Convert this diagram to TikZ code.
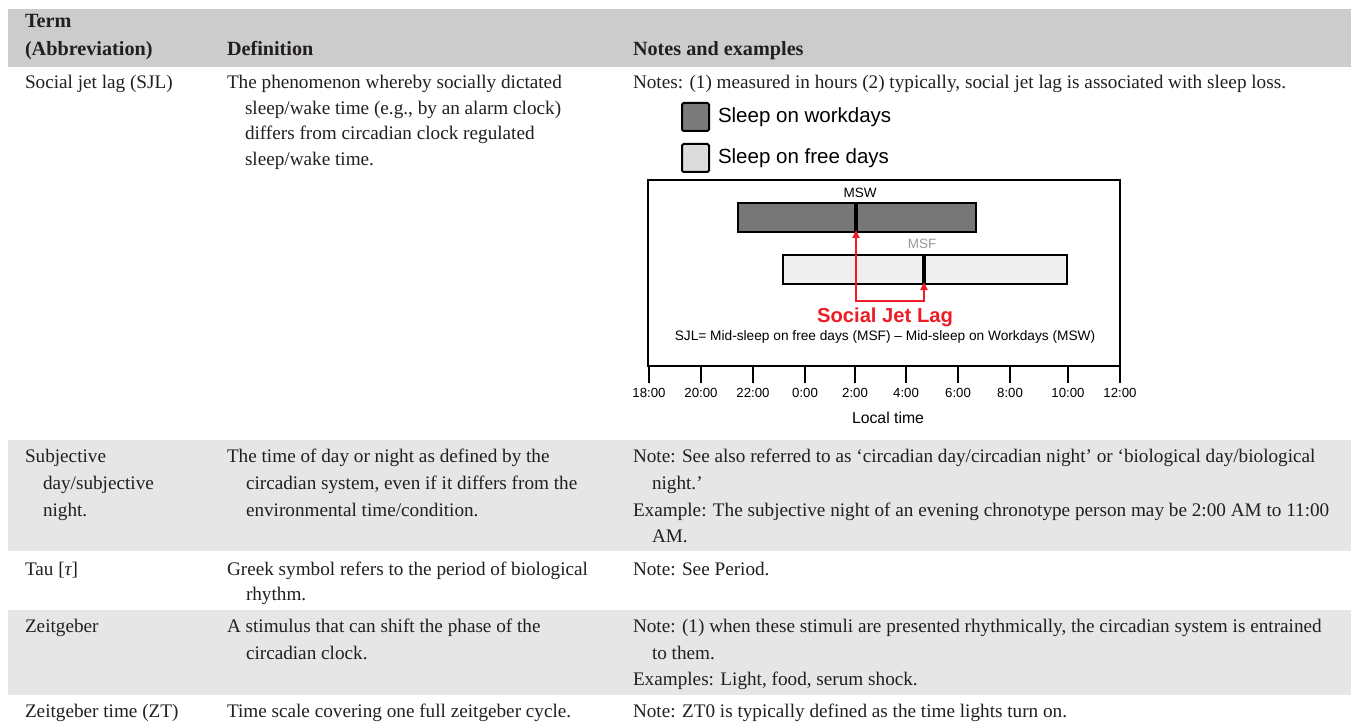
\documentclass[tikz,border=0pt]{standalone}
\usepackage{fontspec}
\setmainfont{Liberation Serif}
\newfontfamily\chartfont{Liberation Sans}
\usetikzlibrary{arrows.meta}
\definecolor{hdrgrey}{HTML}{CCCCCC}
\definecolor{rowgrey}{HTML}{E6E6E6}
\definecolor{txt}{HTML}{231F20}
\definecolor{sjlred}{HTML}{EE1C25}
\definecolor{darkbar}{HTML}{777777}
\definecolor{lightbar}{HTML}{EFEFEF}
\definecolor{legdark}{HTML}{7B7B7B}
\definecolor{leglight}{HTML}{DCDCDC}
\definecolor{msfgrey}{HTML}{999999}
\begin{document}
\begin{tikzpicture}[x=1pt,y=-1pt,
  cell/.style={anchor=base west, inner sep=0pt, outer sep=0pt, text=txt, font=\fontsize{19.2}{22}\selectfont},
  head/.style={cell, font=\fontsize{20.2}{23}\selectfont\bfseries},
  chart/.style={inner sep=0pt, outer sep=0pt, font=\chartfont\fontsize{13.2}{15}\selectfont},
  legbox/.style={draw, line width=2pt, rounded corners=1.5pt, minimum width=27pt, minimum height=28pt, inner sep=0pt, anchor=north west},
  sleepbar/.style={draw, line width=2pt, minimum height=29pt, inner sep=0pt, anchor=north west},
  midmark/.style={line width=3.5pt},
  tickline/.style={line width=2.5pt},
  sjlarrow/.style={draw=sjlred, line width=2.3pt, {Triangle[length=8pt,width=7pt]}-{Triangle[length=8pt,width=7pt]}}
]
\useasboundingbox (0,0) rectangle (1351,727);
\fill[white] (0,0) rectangle (1351,727);
% row backgrounds
\fill[hdrgrey] (8,9) rectangle (1351,67);
\fill[rowgrey] (8,440) rectangle (1351,551);
\fill[rowgrey] (8,610) rectangle (1351,695);

% header
\node[head] (hterm) at (25,28) {Term};
\node[head] (habbr) at (25,56) {(Abbreviation)};
\node[head] (hdef) at (227,56) {Definition};
\node[head] (hnotes) at (633,56) {Notes and examples};

% row 1
\node[cell] (t1) at (25,89) {Social jet lag (SJL)};
\node[cell] (d1a) at (227,89) {The phenomenon whereby socially dictated};
\node[cell] (d1b) at (245,115) {sleep/wake time (e.g., by an alarm clock)};
\node[cell] (d1c) at (245,140) {differs from circadian clock regulated};
\node[cell] (d1d) at (245,166) {sleep/wake time.};
\node[cell] (n1a) at (633,89) {Notes: (1) measured in hours (2) typically, social jet lag is associated with sleep loss.};

% legend
\node[legbox, fill=legdark] (legw) at (681,102) {};
\node[chart, anchor=base west, font=\chartfont\fontsize{20.5}{24}\selectfont] (legwt) at (718,123) {Sleep on workdays};
\node[legbox, fill=leglight] (legf) at (681,143) {};
\node[chart, anchor=base west, font=\chartfont\fontsize{20.5}{24}\selectfont] (legft) at (718,164) {Sleep on free days};

% chart frame
\draw[line width=2pt] (648,180) rectangle (1120,366);
\node[sleepbar, fill=darkbar, minimum width=238pt] (wbar) at (737,202) {};
\node[sleepbar, fill=lightbar, minimum width=284pt] (fbar) at (782,254) {};
\coordinate (mswtop) at (856,202);
\coordinate (mswbot) at (856,231);
\coordinate (msftop) at (924,254);
\coordinate (msfbot) at (924,283);
\draw[midmark] (mswtop) -- (mswbot);
\draw[midmark] (msftop) -- (msfbot);
\node[chart, anchor=base, font=\chartfont\fontsize{13.5}{15}\selectfont] (msw) at (860,198) {MSW};
\node[chart, anchor=base, text=msfgrey, font=\chartfont\fontsize{13.5}{15}\selectfont] (msf) at (922,249) {MSF};
\coordinate (c1) at (856,301);
\coordinate (c2) at (924,301);
\draw[sjlarrow] ([yshift=1pt]mswbot) -- (c1) -- (c2) -- ([yshift=1pt]msfbot);
\node[chart, anchor=base, text=sjlred, font=\chartfont\fontsize{20.2}{24}\selectfont\bfseries] (sjl) at (885,322) {Social Jet Lag};
\node[chart, anchor=base, font=\chartfont\fontsize{13.7}{15}\selectfont] (sjlform) at (885,340) {SJL= Mid-sleep on free days (MSF) – Mid-sleep on Workdays (MSW)};

% axis ticks and labels
\foreach \x/\l [count=\i] in {649/18:00, 701/20:00, 753/22:00, 805/0:00, 855/2:00, 906/4:00, 958/6:00, 1010/8:00, 1068/10:00, 1120/12:00} {
  \draw[tickline] (\x,366) -- (\x,383);
  \node[chart, anchor=base] (tl\i) at (\x,397) {\l};
}
\node[chart, anchor=base, font=\chartfont\fontsize{15.8}{18}\selectfont] (ltime) at (888,423) {Local time};

% row 2
\node[cell] (t2a) at (25,462) {Subjective};
\node[cell] (t2b) at (43,489) {day/subjective};
\node[cell] (t2c) at (43,516) {night.};
\node[cell] (d2a) at (227,462) {The time of day or night as defined by the};
\node[cell] (d2b) at (246,489) {circadian system, even if it differs from the};
\node[cell] (d2c) at (246,516) {environmental time/condition.};
\node[cell] (n2a) at (633,462) {Note: See also referred to as ‘circadian day/circadian night’ or ‘biological day/biological};
\node[cell] (n2b) at (652,489) {night.’};
\node[cell] (n2c) at (633,516) {Example: The subjective night of an evening chronotype person may be 2:00 AM to 11:00};
\node[cell] (n2d) at (652,542) {AM.};

% row 3
\node[cell] (t3) at (25,575) {Tau [{\itshape τ}]};
\node[cell] (d3a) at (227,575) {Greek symbol refers to the period of biological};
\node[cell] (d3b) at (246,600) {rhythm.};
\node[cell] (n3) at (633,575) {Note: See Period.};

% row 4
\node[cell] (t4) at (25,632) {Zeitgeber};
\node[cell] (d4a) at (227,632) {A stimulus that can shift the phase of the};
\node[cell] (d4b) at (246,659) {circadian clock.};
\node[cell] (n4a) at (633,632) {Note: (1) when these stimuli are presented rhythmically, the circadian system is entrained};
\node[cell] (n4b) at (652,659) {to them.};
\node[cell] (n4c) at (633,685) {Examples: Light, food, serum shock.};

% row 5
\node[cell] (t5) at (25,717) {Zeitgeber time (ZT)};
\node[cell] (d5) at (227,717) {Time scale covering one full zeitgeber cycle.};
\node[cell] (n5) at (633,717) {Note: ZT0 is typically defined as the time lights turn on.};
\end{tikzpicture}
\end{document}
